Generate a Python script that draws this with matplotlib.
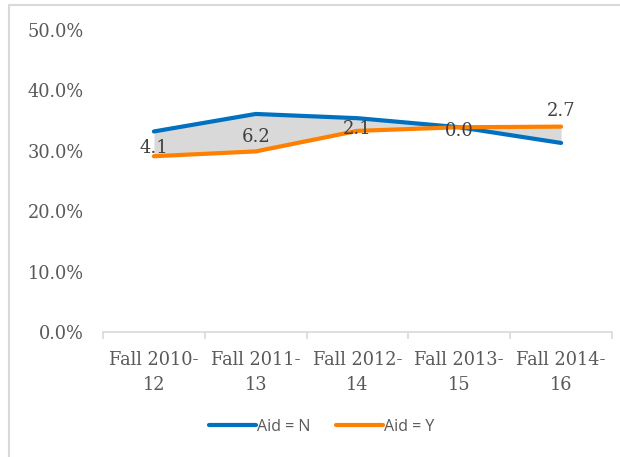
import numpy as np
import matplotlib.pyplot as plt
from matplotlib.patches import Rectangle

categories = ["Fall 2010-\n12", "Fall 2011-\n13", "Fall 2012-\n14", "Fall 2013-\n15", "Fall 2014-\n16"]
aid_n = [33.2, 36.1, 35.4, 33.9, 31.3]
aid_y = [29.1, 29.9, 33.3, 33.9, 34.0]
gap_labels = ["4.1", "6.2", "2.1", "0.0", "2.7"]

blue = "#0070C0"
orange = "#FF8000"

fig = plt.figure(figsize=(6.2, 4.57), dpi=100)
# outer chart border (light gray, runs past the right/bottom edge)
fig.patches.append(Rectangle((9 / 620, -0.1), 1.2, 1 - 5 / 457 + 0.1, transform=fig.transFigure,
                             fill=False, edgecolor="#d9d9d9", linewidth=1.5))

ax = fig.add_axes([103 / 620, (457 - 332) / 457, 509 / 620, 302 / 457])
x = np.arange(len(categories))

ax.fill_between(x, aid_n, aid_y, color="#d9d9d9", linewidth=0)
ax.plot(x, aid_n, color=blue, linewidth=3, solid_capstyle="round", label="Aid = N")
ax.plot(x, aid_y, color=orange, linewidth=3, solid_capstyle="round", label="Aid = Y")

serif = "DejaVu Serif"
for i, lab in enumerate(gap_labels):
    if i == len(gap_labels) - 1:
        ypos = max(aid_n[i], aid_y[i]) + 3.2
    else:
        ypos = (aid_n[i] + aid_y[i]) / 2
    ax.annotate(lab, (x[i], ypos), xytext=(0, -3), textcoords="offset points",
                ha="center", va="center", fontsize=13, family=serif, color="#404040")

ax.set_xlim(-0.5, len(categories) - 0.5)
ax.set_ylim(0, 50)
ax.set_yticks(np.arange(0, 51, 10))
ax.set_yticklabels([f"{v:.1f}%" for v in np.arange(0, 51, 10)])
ax.set_xticks(x)
ax.set_xticklabels(categories, linespacing=1.45)
ax.set_xticks(np.arange(-0.5, len(categories), 1), minor=True)

for s in ["top", "right", "left"]:
    ax.spines[s].set_visible(False)
ax.spines["bottom"].set_color("#d9d9d9")
ax.spines["bottom"].set_linewidth(1.2)

ax.tick_params(axis="y", length=0, pad=14, labelsize=12.8, labelcolor="#595959")
ax.tick_params(axis="x", which="major", length=0, pad=14, labelsize=12.8, labelcolor="#595959")
ax.tick_params(axis="x", which="minor", length=5, width=1.2, color="#d9d9d9")
for t in ax.get_xticklabels() + ax.get_yticklabels():
    t.set_family(serif)

leg = fig.legend(loc="center", bbox_to_anchor=(322 / 620, 1 - 427 / 457), ncol=2, frameon=False,
                 prop={"family": "Open Sans", "size": 11.5}, handlelength=2.9, handletextpad=0.1,
                 columnspacing=1.6, labelcolor="#595959")

fig.savefig("out.png", dpi=100)
